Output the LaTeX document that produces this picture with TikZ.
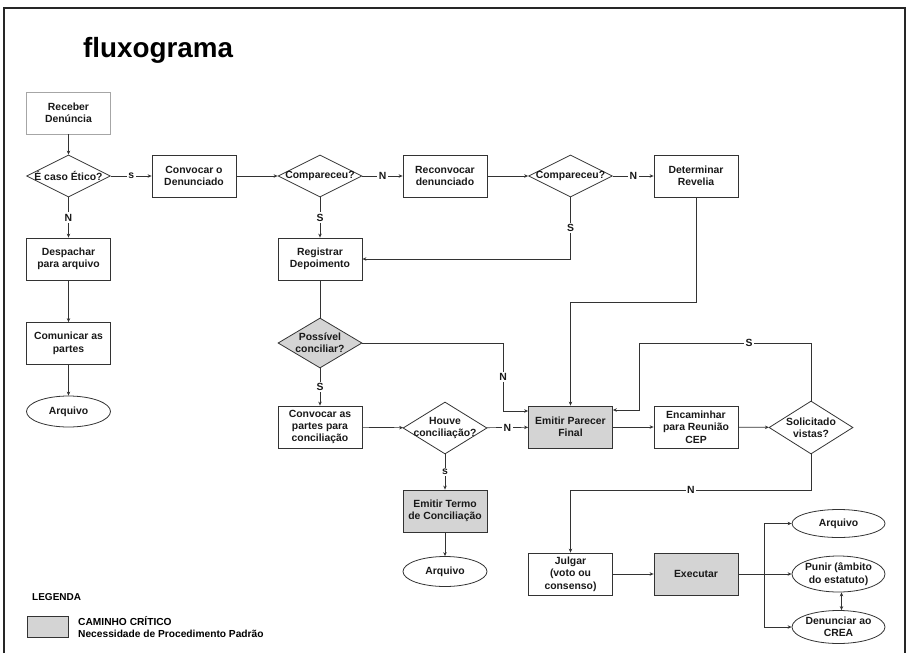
\documentclass[tikz,border=0pt]{standalone}
\usepackage{fontspec}
\setmainfont{Liberation Sans}
\usetikzlibrary{shapes.geometric,arrows.meta}
\definecolor{critgray}{HTML}{D4D4D4}
\definecolor{ln}{HTML}{333333}
\begin{document}
\begin{tikzpicture}[x=1pt,y=-1pt,
 base/.style={font=\bfseries\fontsize{10.4}{12.4}\selectfont, align=center, text=black!90},
 proc/.style={base, rectangle, draw=ln, line width=0.8pt, minimum width=84pt, minimum height=42pt, inner sep=0pt},
 critical/.style={fill=critgray},
 dec/.style={diamond, draw=ln, line width=0.8pt, minimum width=84pt, minimum height=42pt, inner sep=0pt},
 term/.style={ellipse, draw=ln, line width=0.8pt, minimum width=84pt, minimum height=31pt, inner sep=0pt},
 txt/.style={base, inner sep=0pt},
 arr/.style={draw=ln, line width=0.7pt, -{Stealth[length=4pt,width=3.5pt]}},
 arrboth/.style={draw=ln, line width=0.7pt, {Stealth[length=4pt,width=3.5pt]}-{Stealth[length=4pt,width=3.5pt]}},
 lin/.style={draw=ln, line width=0.7pt},
 lab/.style={base, fill=white, inner sep=1.5pt},
]
\useasboundingbox (0,0) rectangle (909,653);
% frame
\draw[line width=2.5pt, draw=black!85] (4,653) -- (4,8) -- (905,8) -- (905,653);
% title
\node[anchor=base west, inner sep=0pt, font=\bfseries\fontsize{27.8}{30}\selectfont] (title) at (83,57) {fluxograma};

% column 1
\node[proc, draw=gray!70] (rec) at (68.5,113) {Receber\\Denúncia};
\node[dec, label={[txt]center:É caso Ético?}] (eti) at (68.5,176) {};
\node[proc] (desp) at (68.5,259) {Despachar\\para arquivo};
\node[proc] (comu) at (68.5,343.5) {Comunicar as\\partes};
\node[term, label={[txt]center:Arquivo}] (arq1) at (68.5,411.5) {};

% row 1
\node[proc] (conv) at (194,176) {Convocar o\\Denunciado};
\node[dec, label={[txt]center:Compareceu?}] (comp1) at (320,176) {};
\node[proc] (reco) at (445,176) {Reconvocar\\denunciado};
\node[dec, label={[txt]center:Compareceu?}] (comp2) at (570.5,176) {};
\node[proc] (dete) at (696,176) {Determinar\\Revelia};

% column 3
\node[proc] (regi) at (320,259) {Registrar\\Depoimento};
\node[dec, critical, minimum height=50pt, label={[txt]center:Possível\\conciliar?}] (poss) at (320,343) {};
\node[proc] (convp) at (320,427) {Convocar as\\partes para\\conciliação};

% row 4
\node[dec, minimum height=52pt, label={[txt]center:Houve\\conciliação?}] (houv) at (445,428) {};
\node[proc, critical] (empa) at (570.5,427) {Emitir Parecer\\Final};
\node[proc] (enca) at (696,427) {Encaminhar\\para Reunião\\CEP};
\node[dec, minimum height=53pt, label={[txt]center:Solicitado\\vistas?}] (soli) at (811,427.5) {};

% lower middle
\node[proc, critical] (term) at (445,511) {Emitir Termo\\de Conciliação};
\node[term, minimum height=30pt, label={[txt]center:Arquivo}] (arq2) at (445,571.5) {};

% bottom right
\node[proc] (julg) at (570.5,574) {Julgar\\(voto ou\\consenso)};
\node[proc, critical] (exec) at (696,574) {Executar};
\node[term, minimum width=93pt, minimum height=28pt, label={[txt]center:Arquivo}] (arqr) at (838.5,523.5) {};
\node[term, minimum width=93pt, minimum height=36pt, label={[txt]center:Punir (âmbito\\do estatuto)}] (puni) at (838.5,574) {};
\node[term, minimum width=93pt, minimum height=33pt, label={[txt]center:Denunciar ao\\CREA}] (denu) at (838.5,627) {};

% legend
\node[anchor=west, inner sep=0pt, font=\bfseries\fontsize{10}{11}\selectfont] (leg) at (32,597) {LEGENDA};
\node[draw=ln, line width=0.8pt, fill=critgray, minimum width=41pt, minimum height=21pt, inner sep=0pt] (legbox) at (47.5,626.5) {};
\node[anchor=west, align=left, inner sep=0pt, font=\bfseries\fontsize{10.2}{12}\selectfont] (legtxt) at (78,627) {CAMINHO CRÍTICO\\Necessidade de Procedimento Padrão};

% coordinates
\coordinate (c1) at (570.5,302);
\coordinate (c2) at (503,411);
\coordinate (c3) at (639,343);
\coordinate (c4) at (639,410);
\coordinate (c5) at (570.5,490);
\coordinate (br) at (764,574);

% connectors
\draw[arr] (rec) -- (eti);
\draw[arr] (eti) -- node[lab]{s} (conv);
\draw[arr] (eti) -- node[lab]{N} (desp);
\draw[arr] (desp) -- (comu);
\draw[arr] (comu) -- (arq1);
\draw[arr] (conv) -- (comp1);
\draw[arr] (comp1) -- node[lab]{N} (reco);
\draw[arr] (comp1) -- node[lab]{S} (regi);
\draw[arr] (reco) -- (comp2);
\draw[arr] (comp2) -- node[lab]{N} (dete);
\draw[arr] (comp2.south) |- node[lab,pos=0.25]{S} (regi.east);
\draw[arr] (dete.south) -- (dete.south |- c1) -- (c1) -- (empa.north);
\draw[lin] (regi) -- (poss);
\draw[arr] (poss.east) -| node[lab,pos=0.75]{N} (c2) -- (empa.west |- c2);
\draw[arr] (poss) -- node[lab]{S} (convp);
\draw[arr] (convp) -- (houv);
\draw[arr] (houv) -- node[lab]{N} (empa);
\draw[arr] (houv) -- node[lab]{s} (term);
\draw[arr] (term) -- (arq2);
\draw[arr] (empa) -- (enca);
\draw[arr] (enca) -- (soli);
\draw[arr] (soli.north) |- node[lab,pos=0.68]{S} (c3) -- (c4) -- (empa.east |- c4);
\draw[arr] (soli.south) |- node[lab,pos=0.75]{N} (c5) -- (julg.north);
\draw[arr] (julg) -- (exec);
\draw[lin] (exec.east) -- (br);
\draw[arr] (br) |- (arqr.west);
\draw[arr] (br) -- (puni.west);
\draw[arr] (br) |- (denu.west);
\draw[arrboth] ([xshift=3pt]puni.south) -- ([xshift=3pt]denu.north);
\end{tikzpicture}
\end{document}
